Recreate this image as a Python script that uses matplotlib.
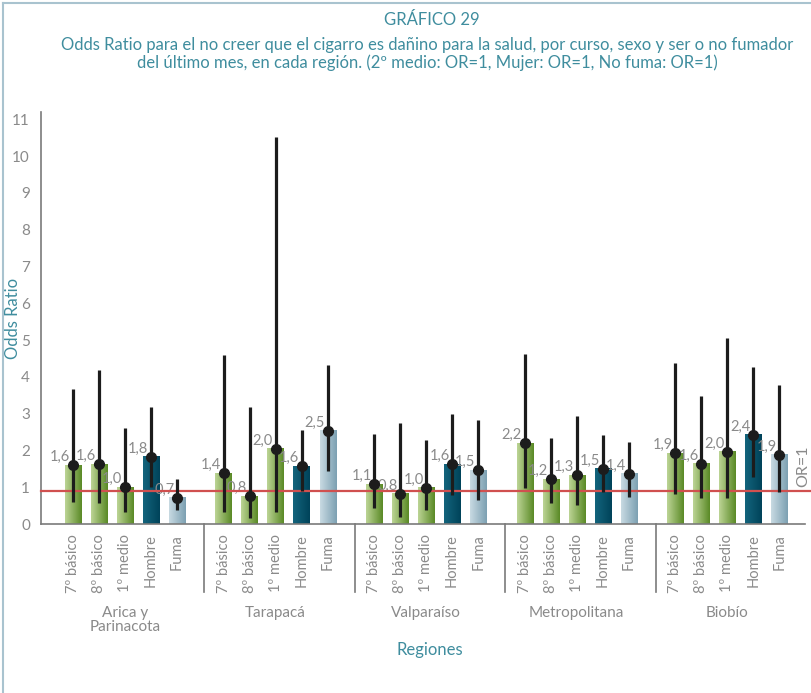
import numpy as np
import matplotlib.pyplot as plt
from matplotlib.colors import LinearSegmentedColormap
from matplotlib.lines import Line2D
import matplotlib.transforms as mtransforms

plt.rcParams['font.family'] = ['Lato', 'DejaVu Sans']
plt.rcParams['font.weight'] = 'normal'

# data
regions = ["Arica y\nParinacota", "Tarapacá", "Valparaíso", "Metropolitana", "Biobío"]
categories = ["7º básico", "8º básico", "1º medio", "Hombre", "Fuma"]

odds = [
    [1.60, 1.62, 1.00, 1.83, 0.71],
    [1.38, 0.76, 2.04, 1.57, 2.54],
    [1.08, 0.82, 0.98, 1.62, 1.46],
    [2.20, 1.22, 1.32, 1.50, 1.37],
    [1.93, 1.64, 1.96, 2.42, 1.88],
]
lower = [
    [0.60, 0.57, 0.33, 1.00, 0.38],
    [0.33, 0.16, 0.33, 0.90, 1.45],
    [0.43, 0.20, 0.38, 0.79, 0.65],
    [0.97, 0.56, 0.52, 0.88, 0.74],
    [0.81, 0.70, 0.70, 1.29, 0.88],
]
upper = [
    [3.67, 4.20, 2.60, 3.18, 1.22],
    [4.60, 3.18, 10.52, 2.55, 4.32],
    [2.46, 2.75, 2.28, 3.00, 2.84],
    [4.62, 2.33, 2.93, 2.42, 2.24],
    [4.37, 3.48, 5.05, 4.27, 3.78],
]
or_line = 0.9  # the OR=1 reference line as drawn

teal = "#3f8d9e"
grey = "#8a8a8a"

cmaps = {
    "green": LinearSegmentedColormap.from_list("g", ["#bcd495", "#5a8a26"]),
    "dark": LinearSegmentedColormap.from_list("d", ["#13647c", "#00435a"]),
    "light": LinearSegmentedColormap.from_list("l", ["#c8dae2", "#7ca0b2"]),
}
bar_kind = ["green", "green", "green", "dark", "light"]

fig = plt.figure(figsize=(8.12, 6.93), dpi=100)
ax = fig.add_axes([41 / 812, 1 - 524 / 693, 764 / 812, 412 / 693])

gstep = 5.79
width = 0.62
grad = np.linspace(0, 1, 64).reshape(1, -1)

for g in range(len(regions)):
    for i in range(len(categories)):
        x = g * gstep + i
        v = odds[g][i]
        ax.imshow(grad, cmap=cmaps[bar_kind[i]], aspect="auto",
                  extent=[x - width / 2, x + width / 2, 0, v], zorder=2)
        ax.plot([x, x], [lower[g][i], upper[g][i]], color="#1c1c1c", lw=2.3,
                solid_capstyle="butt", zorder=4)
        ax.plot(x, v, "o", color="#1c1c1c", ms=7, zorder=5)
        ax.text(x - 0.1, v + 0.03, ("%.1f" % v).replace(".", ","), ha="right",
                va="bottom", color=grey, fontsize=10.5, zorder=3)

ax.axhline(or_line, color="#d0504f", lw=1.6, zorder=3, clip_on=False, xmax=1.01)

ax.set_xlim(-1.23, 28.15)
ax.set_ylim(0, 11.2)
ax.set_yticks(range(0, 12))
ax.tick_params(axis="y", length=0, labelcolor=grey, labelsize=11, pad=8)

xt = [g * gstep + i for g in range(len(regions)) for i in range(len(categories))]
ax.set_xticks(xt)
ax.set_xticklabels(categories * len(regions), rotation=90, color=grey, fontsize=10.5)
ax.tick_params(axis="x", length=0, pad=7)

for s in ["top", "right"]:
    ax.spines[s].set_visible(False)
for s in ["left", "bottom"]:
    ax.spines[s].set_color("#7a7a7a")
    ax.spines[s].set_linewidth(1.2)

trans = mtransforms.blended_transform_factory(ax.transData, ax.transAxes)
for g in range(1, len(regions)):
    xs = ((g - 1) * gstep + 4 + g * gstep) / 2 + 0.15
    ax.add_line(Line2D([xs, xs], [0, -0.165], transform=trans, color="#7a7a7a",
                       lw=1.2, clip_on=False))
for g in range(len(regions)):
    ax.text(g * gstep + 2, -0.2, regions[g], transform=trans, ha="center",
            va="top", color=grey, fontsize=11, linespacing=0.95)

fig.text(803 / 812, 1 - 466 / 693, "OR=1", rotation=90, ha="center",
         va="center", color=grey, fontsize=11.5)

ax.set_ylabel("Odds Ratio", color=teal, fontsize=12)
ax.yaxis.set_label_coords(-20 / 764, 0.5)
fig.text(430 / 812, 1 - 650 / 693, "Regiones", ha="center", va="center",
         color=teal, fontsize=12)

fig.text(432 / 812, 1 - 20 / 693, "GRÁFICO 29", ha="center", va="center",
         color=teal, fontsize=12)
fig.text(427 / 812, 1 - 54 / 693,
         "Odds Ratio para el no creer que el cigarro es dañino para la salud, por curso, sexo y ser o no fumador\n"
         "del último mes, en cada región. (2º medio: OR=1, Mujer: OR=1, No fuma: OR=1)",
         ha="center", va="center", color=teal, fontsize=12, linespacing=1.1)

# frame around the chart
fig.add_artist(Line2D([3 / 812, 1], [1 - 3 / 693, 1 - 3 / 693], color="#a9c3cf", lw=1.5))
fig.add_artist(Line2D([3 / 812, 3 / 812], [0, 1 - 3 / 693], color="#a9c3cf", lw=1.5))

fig.savefig("out.png", dpi=100)
